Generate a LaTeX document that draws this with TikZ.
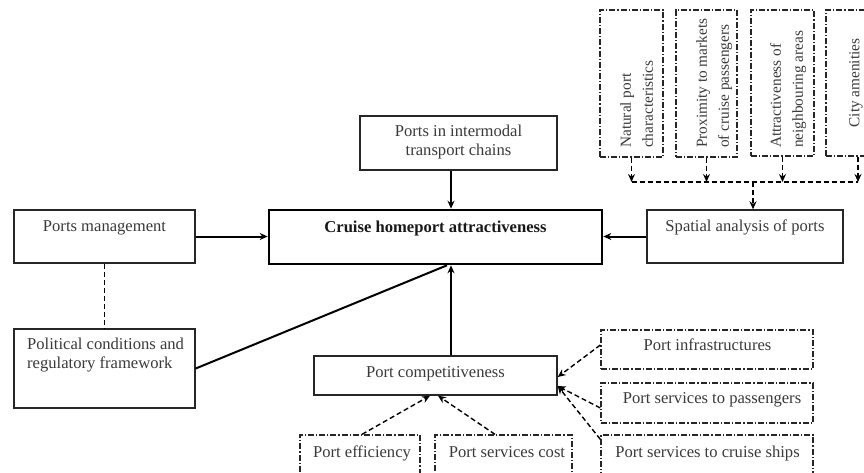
\documentclass[tikz,border=0pt]{standalone}
\usepackage{fontspec}
\setmainfont{Liberation Serif}
\usetikzlibrary{arrows.meta}
\definecolor{txt}{HTML}{3A3A3A}
\tikzset{
  box/.style={draw=black!85, line width=1.4pt, inner sep=0pt, minimum width=#1},
  mainbox/.style={draw=black, line width=2.6pt, inner sep=0pt},
  dbox/.style={draw=black!85, line width=1.3pt, inner sep=0pt,
    dash pattern=on 6pt off 2pt on 1.2pt off 2pt},
  lbl/.style={inner sep=0pt, text=txt, font=\fontsize{16.6}{19}\selectfont},
  vlbl/.style={inner sep=0pt, text=txt, rotate=90, align=left,
    font=\fontsize{15.3}{22}\selectfont},
  sarr/.style={line width=2pt, -{Stealth[length=8pt,width=7pt]}},
  sline/.style={line width=2pt},
  darr/.style={line width=1.4pt, dash pattern=on 5pt off 3pt, -{Stealth[length=8pt,width=7pt]}},
  dline/.style={line width=1.4pt, dash pattern=on 5pt off 3pt},
}
\begin{document}
\begin{tikzpicture}[x=1pt,y=-1pt]
\useasboundingbox (0,0) rectangle (864,472);
\fill[white] (0,0) rectangle (864,472);
\clip (0,0) rectangle (864,472);

% boxes
\node[box=197pt, minimum height=54pt] (intermodal) at (458.5,143) {};
\node[box=181pt, minimum height=53pt] (pm) at (104.5,236.5) {};
\node[mainbox, minimum width=333pt, minimum height=54pt] (cruise) at (435.5,237) {};
\node[box=196pt, minimum height=53pt] (spatial) at (745,236.5) {};
\node[box=181pt, minimum height=79pt] (political) at (104.5,368.5) {};
\node[box=243pt, minimum height=39pt] (comp) at (435.5,375.5) {};

\node[dbox, minimum width=212pt, minimum height=39pt] (infra) at (707,349.5) {};
\node[dbox, minimum width=212pt, minimum height=40pt] (pass) at (707,403) {};
\node[dbox, minimum width=212pt, minimum height=54pt] (ships) at (707,462) {};
\node[dbox, minimum width=120pt, minimum height=54pt] (eff) at (360,462) {};
\node[dbox, minimum width=137pt, minimum height=54pt] (cost) at (503.5,462) {};

\node[dbox, minimum width=63pt, minimum height=147pt] (nat) at (631.5,83.5) {};
\node[dbox, minimum width=61pt, minimum height=147pt] (prox) at (706.5,83.5) {};
\node[dbox, minimum width=63pt, minimum height=146pt] (attr) at (782.5,83) {};
\node[dbox, minimum width=64pt, minimum height=146pt] (city) at (858,83) {};

% texts (multi-line nodes: base anchor is on the last line)
\node[lbl, anchor=base, align=center] (tintermodal) at (458.5,155) {Ports in intermodal\\transport chains};
\node[lbl, anchor=base] (tpm) at (104.5,231) {Ports management};
\node[lbl, anchor=base, font=\fontsize{16.6}{19}\selectfont\bfseries, text=black!90] (tcruise) at (435.5,232) {Cruise homeport attractiveness};
\node[lbl, anchor=base] (tspatial) at (745,231) {Spatial analysis of ports};
\node[lbl, anchor=base west, align=left] (tpolitical) at (27,368) {Political conditions and\\regulatory framework};
\node[lbl, anchor=base] (tcomp) at (435.5,377) {Port competitiveness};
\node[lbl, anchor=base] (tinfra) at (707.5,350) {Port infrastructures};
\node[lbl, anchor=base] (tpass) at (712,403) {Port services to passengers};
\node[lbl, anchor=base] (tships) at (707.5,457) {Port services to cruise ships};
\node[lbl, anchor=base] (teff) at (362,457) {Port efficiency};
\node[lbl, anchor=base] (tcost) at (507,457) {Port services cost};

\node[vlbl, anchor=north west] (tnat) at (620,148) {Natural port\\characteristics};
\node[vlbl, anchor=north west] (tprox) at (696,148) {Proximity to markets\\of cruise passengers};
\node[vlbl, anchor=north west] (tattr) at (770,148) {Attractiveness of\\neighbouring areas};
\node[vlbl, anchor=center] (tcity) at (856,83) {City amenities};

% solid connectors
\coordinate (vx) at (451,0);
\coordinate (dx) at (447,0);
\draw[sarr] (intermodal.south -| vx) -- (cruise.north -| vx);
\draw[sarr] (comp.north -| vx) -- (cruise.south -| vx);
\draw[sarr] (pm.east) -- (pm.east -| cruise.west);
\draw[sarr] (spatial.west) -- (spatial.west -| cruise.east);
\draw[sline] (political.east) -- (cruise.south -| dx);
\draw[dline] (pm.south) -- (political.north);

% top dashed collector
\coordinate (hl) at (745,182);
\coordinate (hv) at (753,182);
\foreach \b in {nat,prox,attr,city}
  \draw[darr] (\b.south) -- (\b.south |- hl);
\draw[dline] (nat.south |- hl) -- (city.south |- hl);
\draw[darr] (hv) -- (hv |- spatial.north);

% dashed arrows to competitiveness
\draw[darr] ([xshift=2pt]eff.north) -- ([xshift=-5.5pt]comp.south);
\draw[darr] ([xshift=-8.5pt]cost.north) -- ([xshift=2.5pt]comp.south);
\draw[darr] ([yshift=4.5pt]infra.west) -- ([yshift=-1.5pt]comp.east);
\draw[darr] ([yshift=-5pt]pass.west) -- ([yshift=-10.5pt]comp.east);
\draw[darr] ([yshift=-5pt]ships.north west) -- ([yshift=-10.5pt]comp.east);
\end{tikzpicture}
\end{document}
